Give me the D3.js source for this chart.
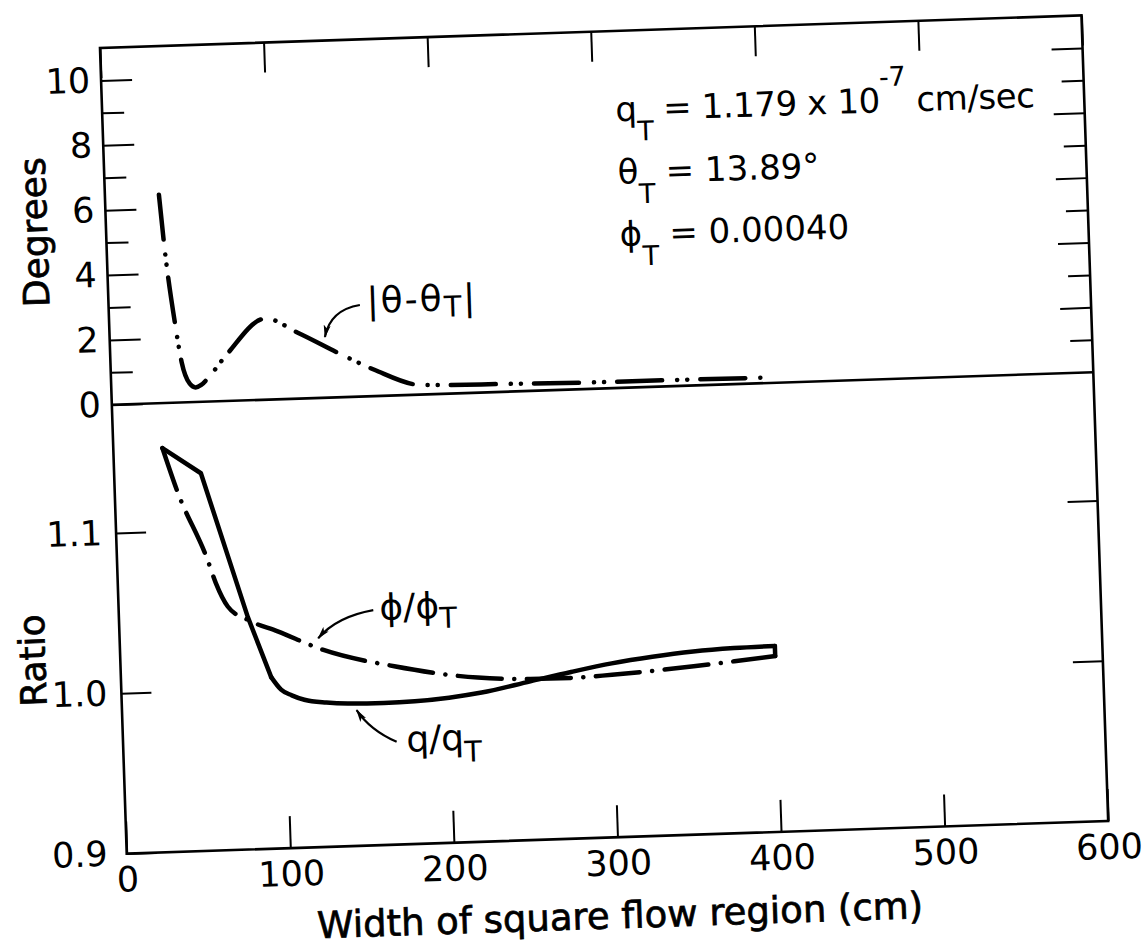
<!DOCTYPE html>
<html lang="en">
<head>
  <meta charset="UTF-8">
  <title>Width of square flow region</title>
  <script src="https://d3js.org/d3.v7.min.js"></script>
  <style>
    body { margin: 0; background: #fff; }
    svg text { font-family: "DejaVu Sans", sans-serif; fill: #000; }
  </style>
</head>
<body>
  <script>
    // |theta - theta_T| (degrees), upper panel
    var thetaX = [33, 35, 40.5, 43.5, 48, 51.5, 55, 59, 71.5, 95.5, 115, 141, 161, 188, 197, 241, 291, 341, 398];
    var thetaDev = [6.42, 5.0, 2.33, 1.24, 0.57, 0.45, 0.52, 0.71, 1.45, 2.5, 2.03, 1.32, 0.81, 0.30, 0.28, 0.24, 0.20, 0.19, 0.17];

    // q/q_T, lower panel (solid)
    var qX = [30, 53, 78.7, 91.8, 97.6, 104, 111.6, 125, 138, 160, 179, 200, 220, 250, 275, 300, 325, 350, 375, 400];
    var qRatio = [1.152, 1.1355, 1.045, 1.007, 0.999, 0.9952, 0.9922, 0.990, 0.989, 0.9886, 0.989, 0.9905, 0.993, 0.999, 1.004, 1.0085, 1.0118, 1.0142, 1.0155, 1.016];

    // phi/phi_T, lower panel (dash-dot)
    var phiX = [30, 38.3, 55.3, 59.9, 66.7, 78.6, 96.7, 123.8, 167.2, 217.9, 250, 275, 300, 325, 350, 375, 400];
    var phiRatio = [1.152, 1.1245, 1.0814, 1.0667, 1.0519, 1.0432, 1.0354, 1.023, 1.0112, 1.0024, 1.0005, 1.0003, 1.0014, 1.003, 1.005, 1.0073, 1.0097];

    var xTicks = [0, 100, 200, 300, 400, 500, 600];
    var degTicks = [0, 1, 2, 3, 4, 5, 6, 7, 8, 9, 10];
    var ratioTicks = [0.9, 1.0, 1.1];

    var width = 1148, height = 948;
    var W = 982, H = 806, zeroY = 357; // frame size, position of the 0 degree line

    var svg = d3.select('body').append('svg')
      .attr('width', width)
      .attr('height', height);

    svg.append('defs').append('marker')
      .attr('id', 'arrow')
      .attr('viewBox', '0 0 13 8')
      .attr('refX', 12).attr('refY', 4)
      .attr('markerWidth', 13).attr('markerHeight', 8)
      .attr('markerUnits', 'userSpaceOnUse')
      .attr('orient', 'auto')
      .append('path')
      .attr('d', 'M0,0.5 L13,4 L0,7.5 L3,4 Z')
      .attr('fill', '#000');

    // the scanned figure sits slightly tilted on the page
    var g = svg.append('g').attr('transform', 'translate(100,48) rotate(-1.9)');

    var x = d3.scaleLinear().domain([0, 600]).range([0, W]);
    var yDeg = d3.scaleLinear().domain([0, 11]).range([zeroY, 0]);
    var yRatio = d3.scaleLinear().domain([0.9, 1.18]).range([H, zeroY]);

    function styleAxis(sel) {
      sel.select('.domain').remove();
      sel.selectAll('.tick line').attr('stroke', '#000').attr('stroke-width', 2);
      sel.selectAll('.tick text').attr('font-size', 35).attr('fill', '#000')
        .style('font-family', '"DejaVu Sans", sans-serif');
    }

    // degrees, left and right
    var degL = g.append('g')
      .call(d3.axisLeft(yDeg).tickValues(degTicks).tickSizeInner(-31).tickSizeOuter(0).tickPadding(11)
        .tickFormat(function (d) { return d % 2 ? '' : d; }))
      .call(styleAxis);
    degL.selectAll('.tick line').attr('x2', function (d) { return d % 2 ? 22 : 31; });

    var degR = g.append('g').attr('transform', 'translate(' + W + ',0)')
      .call(d3.axisRight(yDeg).tickValues(degTicks.slice(1)).tickSizeInner(-31).tickSizeOuter(0).tickFormat(''))
      .call(styleAxis);
    degR.selectAll('.tick line').attr('x2', function (d) { return d % 2 ? -22 : -31; });

    // ratio, left and right
    var ratL = g.append('g')
      .call(d3.axisLeft(yRatio).tickValues(ratioTicks).tickSizeInner(-30).tickSizeOuter(0).tickPadding(14)
        .tickFormat(d3.format('.1f')))
      .call(styleAxis);
    ratL.selectAll('.tick text').filter(function (d) { return d === 0.9; }).attr('x', -19);

    g.append('g').attr('transform', 'translate(' + W + ',0)')
      .call(d3.axisRight(yRatio).tickValues(ratioTicks.slice(1)).tickSizeInner(-30).tickSizeOuter(0).tickFormat(''))
      .call(styleAxis);

    // width, bottom and top
    g.append('g').attr('transform', 'translate(0,' + H + ')')
      .call(d3.axisBottom(x).tickValues(xTicks).tickSizeInner(-32).tickSizeOuter(0).tickPadding(13)
        .tickFormat(d3.format('d')))
      .call(styleAxis);

    g.append('g')
      .call(d3.axisTop(x).tickValues(xTicks).tickSizeInner(-30).tickSizeOuter(0).tickFormat(''))
      .call(styleAxis);

    // frame and zero line
    g.append('rect')
      .attr('x', 0).attr('y', 0).attr('width', W).attr('height', H)
      .attr('fill', 'none').attr('stroke', '#000').attr('stroke-width', 2.6);
    g.append('line')
      .attr('x1', 0).attr('x2', W).attr('y1', yDeg(0)).attr('y2', yDeg(0))
      .attr('stroke', '#000').attr('stroke-width', 2.6);

    // axis titles
    g.append('text')
      .attr('transform', 'translate(-59,182) rotate(-90)')
      .attr('text-anchor', 'middle').attr('font-size', 36)
      .attr('stroke', '#000').attr('stroke-width', 0.7)
      .text('Degrees');
    g.append('text')
      .attr('transform', 'translate(-75,610) rotate(-90)')
      .attr('text-anchor', 'middle').attr('font-size', 36)
      .attr('stroke', '#000').attr('stroke-width', 0.7)
      .text('Ratio');
    g.append('text')
      .attr('x', W / 2).attr('y', 897)
      .attr('text-anchor', 'middle').attr('font-size', 37)
      .attr('stroke', '#000').attr('stroke-width', 0.7)
      .text('Width of square flow region (cm)');

    // curves
    var thetaData = thetaX.map(function (v, i) { return [v, thetaDev[i]]; });
    var qData = qX.map(function (v, i) { return [v, qRatio[i]]; });
    var phiData = phiX.map(function (v, i) { return [v, phiRatio[i]]; });

    var lineDeg = d3.line()
      .x(function (d) { return x(d[0]); })
      .y(function (d) { return yDeg(d[1]); })
      .curve(d3.curveMonotoneX);
    var lineRatio = d3.line()
      .x(function (d) { return x(d[0]); })
      .y(function (d) { return yRatio(d[1]); })
      .curve(d3.curveMonotoneX);

    g.append('path').datum(thetaData)
      .attr('d', lineDeg)
      .attr('fill', 'none').attr('stroke', '#000').attr('stroke-width', 4.5)
      .attr('stroke-linecap', 'round')
      .attr('stroke-dasharray', '45 15 0.1 10 0.1 13');

    g.append('path').datum(phiData)
      .attr('d', lineRatio)
      .attr('fill', 'none').attr('stroke', '#000').attr('stroke-width', 4.5)
      .attr('stroke-linecap', 'round')
      .attr('stroke-dasharray', '44 12.5 0.1 12.5');

    // q/q_T: straight drawn segments down to the knee, smooth after it
    g.append('path').datum(qData.slice(0, 4))
      .attr('d', lineRatio.curve(d3.curveLinear))
      .attr('fill', 'none').attr('stroke', '#000').attr('stroke-width', 4.5)
      .attr('stroke-linejoin', 'round').attr('stroke-linecap', 'round');
    g.append('path').datum(qData.slice(3))
      .attr('d', lineRatio.curve(d3.curveMonotoneX))
      .attr('fill', 'none').attr('stroke', '#000').attr('stroke-width', 4.5)
      .attr('stroke-linejoin', 'round').attr('stroke-linecap', 'round');

    // closing stroke at the end of the two ratio curves
    g.append('line')
      .attr('x1', x(qX[qX.length - 1])).attr('y1', yRatio(qRatio[qRatio.length - 1]))
      .attr('x2', x(phiX[phiX.length - 1])).attr('y2', yRatio(phiRatio[phiRatio.length - 1]))
      .attr('stroke', '#000').attr('stroke-width', 4.5).attr('stroke-linecap', 'round');

    // curve labels with arrows
    function arrow(p0, p1, p2, yScale) {
      var p = d3.path();
      p.moveTo(x(p0[0]), yScale(p0[1]));
      p.quadraticCurveTo(x(p1[0]), yScale(p1[1]), x(p2[0]), yScale(p2[1]));
      g.append('path').attr('d', p.toString())
        .attr('fill', 'none').attr('stroke', '#000').attr('stroke-width', 2.2)
        .attr('marker-end', 'url(#arrow)');
    }

    function label(px, py, main, sub, tail, size, drop) {
      var t = g.append('text').attr('x', px).attr('y', py).attr('font-size', size);
      t.append('tspan').text(main);
      t.append('tspan').attr('font-size', size * 0.8).attr('dy', drop).text(sub);
      if (tail) t.append('tspan').attr('dy', -drop).text(tail);
      return t;
    }

    arrow([153.5, 2.82], [135.2, 2.70], [131.5, 1.87], yDeg);
    label(x(157.6), yDeg(2.56), '|θ-θ', 'T', '|', 36, 6).attr('letter-spacing', 2);

    arrow([155.5, 1.0466], [133, 1.0433], [121.3, 1.0302], yRatio);
    label(x(159.3), yRatio(1.0403), 'ϕ/ϕ', 'T', null, 36, 10);

    arrow([167.1, 0.9641], [151.1, 0.9719], [143.3, 0.9847], yRatio);
    label(x(173), yRatio(0.9577), 'q/q', 'T', null, 36, 12);

    // reference values
    var qT = g.append('text').attr('x', x(313.5)).attr('y', yDeg(8.22)).attr('font-size', 34)
      .attr('letter-spacing', -0.4);
    qT.append('tspan').text('q');
    qT.append('tspan').attr('font-size', 27).attr('dy', 20).text('T');
    qT.append('tspan').attr('dy', -20).text(' = 1.179 x 10');
    qT.append('tspan').attr('font-size', 27).attr('dy', -26).text('-7');
    qT.append('tspan').attr('dy', 26).text(' cm/sec');

    label(x(313.5), yDeg(6.28), 'θ', 'T', ' = 13.89°', 34, 20);
    label(x(313.5), yDeg(4.37), 'ϕ', 'T', ' = 0.00040', 34, 20);
  </script>
</body>
</html>
